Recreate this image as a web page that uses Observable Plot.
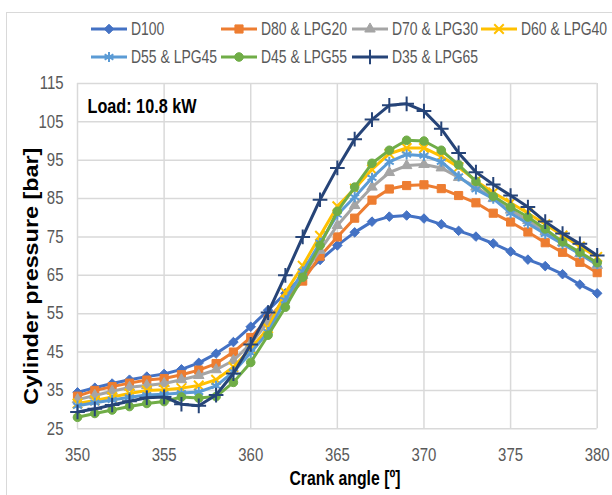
<!DOCTYPE html>
<html>
<head>
<meta charset="utf-8">
<script src="https://cdn.jsdelivr.net/npm/d3@7"></script>
<script src="https://cdn.jsdelivr.net/npm/@observablehq/plot@0.6"></script>
<style>
  body { margin: 0; background: #fff; }
  #chart { position: relative; width: 612px; height: 495px; overflow: hidden; background: #fff;
           font-family: "Liberation Sans", Arial, sans-serif; }
  #border { position: absolute; left: 6px; top: 12px; width: 620px; height: 500px;
            border: 1px solid #d9d9d9; box-sizing: border-box; }
  #legend { position: absolute; left: 0; top: 0; }
  #plot { position: absolute; left: 0; top: 70px; }
</style>
</head>
<body>
<div id="chart">
  <div id="border"></div>
  <svg id="legend" width="612" height="70"></svg>
  <div id="plot"></div>
</div>
<script>
// Crank angle positions (degrees)
const angles = [350, 351, 352, 353, 354, 355, 356, 357, 358, 359, 360,
                361, 362, 363, 364, 365, 366, 367, 368, 369, 370,
                371, 372, 373, 374, 375, 376, 377, 378, 379, 380];

// Cylinder pressure (bar) for each fuel blend
const d100 = [34.5, 35.7, 36.8, 37.8, 38.6, 39.3, 40.5, 42.2, 44.6, 47.6, 51.6,
              55.9, 60.3, 64.8, 69.0, 72.8, 76.2, 79.0, 80.3, 80.6, 79.8,
              78.3, 76.6, 75.1, 73.3, 71.2, 69.1, 67.4, 65.3, 62.6, 60.3];
const d80lpg20 = [33.5, 35.0, 36.0, 36.9, 37.7, 38.1, 39.1, 40.3, 42.0, 45.0, 48.8,
                  53.6, 58.8, 63.5, 70.0, 75.0, 79.9, 84.6, 87.5, 88.4, 88.6,
                  87.6, 85.8, 83.9, 81.2, 78.9, 76.3, 73.5, 71.0, 68.4, 65.7];
const d70lpg30 = [32.6, 33.7, 34.8, 35.8, 36.3, 36.8, 37.8, 38.9, 40.4, 42.8, 47.2,
                  52.8, 59.3, 65.0, 71.5, 78.0, 83.2, 88.0, 91.8, 93.6, 93.9,
                  93.0, 90.5, 88.0, 85.0, 82.0, 79.3, 76.4, 73.5, 70.6, 67.6];
const d60lpg40 = [31.6, 32.4, 33.3, 34.2, 35.0, 35.2, 35.6, 36.3, 37.8, 41.1, 45.9,
                  51.2, 60.5, 67.5, 75.3, 83.0, 87.6, 92.6, 96.7, 98.2, 98.2,
                  96.0, 93.2, 89.6, 86.6, 83.9, 81.2, 78.3, 75.4, 72.5, 69.8];
const d55lpg45 = [31.0, 31.8, 32.5, 33.2, 33.8, 34.0, 34.3, 34.6, 36.2, 39.8, 44.8,
                  50.2, 58.5, 66.0, 73.5, 80.8, 85.4, 90.4, 94.6, 96.5, 96.2,
                  94.6, 90.8, 87.4, 85.0, 81.2, 78.5, 75.8, 73.2, 70.6, 67.9];
const d45lpg55 = [28.0, 29.0, 29.9, 30.8, 31.6, 32.1, 33.3, 33.0, 33.4, 37.1, 42.3,
                  49.4, 56.7, 64.5, 72.8, 81.7, 88.0, 94.2, 97.6, 100.2, 100.0,
                  97.6, 93.8, 89.5, 85.6, 82.8, 80.2, 77.1, 73.7, 71.0, 68.3];
const d35lpg65 = [29.4, 30.2, 31.2, 32.2, 33.1, 33.3, 31.4, 31.0, 33.8, 39.4, 47.0,
                  55.3, 65.0, 75.0, 84.7, 93.0, 100.5, 105.6, 109.3, 109.7, 107.8,
                  103.2, 96.9, 91.9, 88.7, 85.8, 82.8, 79.0, 75.9, 73.2, 70.2];

const seriesNames = ["D100", "D80 & LPG20", "D70 & LPG30", "D60 & LPG40",
                     "D55 & LPG45", "D45 & LPG55", "D35 & LPG65"];
const seriesValues = [d100, d80lpg20, d70lpg30, d60lpg40, d55lpg45, d45lpg55, d35lpg65];
const seriesColors = ["#4472C4", "#ED7D31", "#A5A5A5", "#FFC000", "#5B9BD5", "#70AD47", "#264478"];
const seriesSymbols = ["diamond2", "square", "triangle2", "times", "asterisk", "circle", "plus"];
const seriesRadius = [4.3, 4.6, 5.0, 4.4, 4.8, 4.3, 4.8];
const strokeOnly = [false, false, false, true, true, false, true];

const xTicks = [350, 355, 360, 365, 370, 375, 380];
const yTicks = [25, 35, 45, 55, 65, 75, 85, 95, 105, 115];

const loadLabel = "Load: 10.8 kW";
const xTitle = "Crank angle [º]";
const yTitle = "Cylinder pressure [bar]";

// Squeeze a text element horizontally (narrow, Calibri-like look)
function condense(el, factor, fixedWidth) {
  const w = fixedWidth ?? el.getComputedTextLength() * factor;
  el.setAttribute("textLength", w);
  el.setAttribute("lengthAdjust", "spacingAndGlyphs");
}

// ---- legend (two rows, fixed columns) ----
const symbolTypes = {
  diamond2: d3.symbolDiamond2, square: d3.symbolSquare, triangle2: d3.symbolTriangle2,
  times: d3.symbolTimes, asterisk: d3.symbolAsterisk, circle: d3.symbolCircle, plus: d3.symbolPlus
};
const legendCols = [91, 221, 352, 481];
const legendRows = [29, 57];
const legend = d3.select("#legend");
seriesNames.forEach((name, i) => {
  const col = legendCols[i < 4 ? i : i - 4];
  const y = legendRows[i < 4 ? 0 : 1];
  const g = legend.append("g");
  g.append("line").attr("x1", col).attr("x2", col + 36).attr("y1", y).attr("y2", y)
    .attr("stroke", seriesColors[i]).attr("stroke-width", 3);
  const r = seriesRadius[i];
  g.append("path")
    .attr("transform", `translate(${col + 18},${y})`)
    .attr("d", d3.symbol().type(symbolTypes[seriesSymbols[i]]).size(Math.PI * r * r)())
    .attr("fill", strokeOnly[i] ? "none" : seriesColors[i])
    .attr("stroke", seriesColors[i])
    .attr("stroke-width", strokeOnly[i] ? 2 : 1);
  const t = g.append("text").attr("x", col + 40).attr("y", y).attr("dy", "0.36em")
    .attr("font-size", 18).attr("fill", "#595959").text(name);
  condense(t.node(), 0.775);
});

// ---- plot ----
const gridStyle = {stroke: "#d9d9d9", strokeOpacity: 1, strokeWidth: 1.5};
const seriesMarks = seriesValues.flatMap((vals, i) => {
  const rows = angles.map((a, j) => ({angle: a, pressure: vals[j]}));
  return [
    Plot.line(rows, {x: "angle", y: "pressure", stroke: seriesColors[i], strokeWidth: 3}),
    Plot.dot(rows, {
      x: "angle", y: "pressure", symbol: seriesSymbols[i], r: seriesRadius[i],
      fill: strokeOnly[i] ? "none" : seriesColors[i],
      stroke: seriesColors[i], strokeWidth: strokeOnly[i] ? 2 : 1
    })
  ];
});

const chart = Plot.plot({
  width: 612,
  height: 425,
  marginTop: 13,
  marginBottom: 66.7,
  marginLeft: 77,
  marginRight: 15.3,
  style: {fontFamily: '"Liberation Sans", Arial, sans-serif', background: "transparent"},
  x: {domain: [350, 380]},
  y: {domain: [25, 115]},
  marks: [
    Plot.gridX(xTicks, gridStyle),
    Plot.gridY(yTicks, gridStyle),
    Plot.axisX(xTicks, {tickSize: 0, tickPadding: 19, label: null, fontSize: 18, fill: "#595959"}),
    Plot.axisY(yTicks, {tickSize: 0, tickPadding: 14, label: null, fontSize: 18, fill: "#595959"}),
    ...seriesMarks,
    Plot.text([loadLabel], {frameAnchor: "top-left", dx: 10, dy: 23, lineAnchor: "middle",
      textAnchor: "start", fontSize: 20, fontWeight: "bold", fill: "#000"}),
    Plot.text([xTitle], {frameAnchor: "bottom", dx: 7.6, dy: 50, lineAnchor: "middle",
      textAnchor: "middle", fontSize: 20, fontWeight: "bold", fill: "#000"}),
    Plot.text([yTitle], {frameAnchor: "left", dx: -46, dy: 20, rotate: -90, lineAnchor: "middle",
      textAnchor: "middle", fontSize: 21, fontWeight: "bold", fill: "#000"})
  ]
});
document.getElementById("plot").appendChild(chart);

// Narrow the tick labels and titles once they are laid out
const svg = d3.select(chart.tagName === "svg" ? chart : chart.querySelector("svg"));
svg.selectAll('g[aria-label="x-axis tick label"] text, g[aria-label="y-axis tick label"] text')
  .each(function() { condense(this, 0.83); });
const titles = svg.selectAll('g[aria-label="text"] text').nodes();
condense(titles[0], null, 109);
condense(titles[1], null, 111);
condense(titles[2], null, 257);
</script>
</body>
</html>
